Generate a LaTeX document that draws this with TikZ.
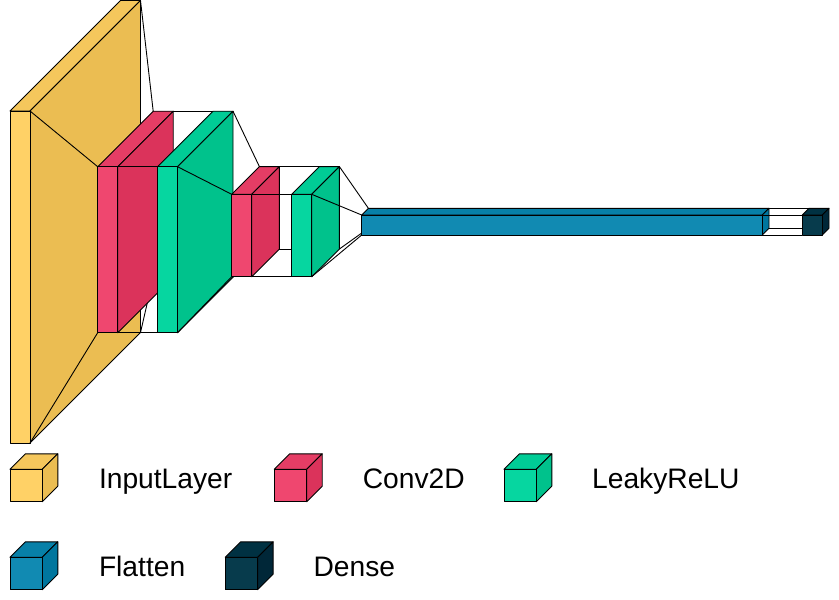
\documentclass[tikz,border=0pt]{standalone}
\usepackage{fontspec}
\setmainfont{Liberation Sans}
\usetikzlibrary{calc}
\usetikzlibrary{positioning}

\definecolor{inputfront}{RGB}{255,209,102}
\definecolor{inputtop}{RGB}{245,199,92}
\definecolor{inputside}{RGB}{235,189,82}
\definecolor{convfront}{RGB}{239,71,111}
\definecolor{convtop}{RGB}{229,61,101}
\definecolor{convside}{RGB}{219,51,91}
\definecolor{leakyfront}{RGB}{6,214,160}
\definecolor{leakytop}{RGB}{0,204,150}
\definecolor{leakyside}{RGB}{0,194,140}
\definecolor{flatfront}{RGB}{17,138,178}
\definecolor{flattop}{RGB}{7,128,168}
\definecolor{flatside}{RGB}{0,118,158}
\definecolor{densefront}{RGB}{7,59,76}
\definecolor{densetop}{RGB}{0,49,66}
\definecolor{denseside}{RGB}{0,39,56}

\begin{document}
\begin{tikzpicture}[x=1pt, y=-1pt,
    face/.style={draw=black, line width=0.9pt, line join=round},
    legendtext/.style={anchor=base west, inner sep=0pt, font=\fontsize{28.2}{34}\selectfont}]

\useasboundingbox (0,0) rectangle (839,600);

% 定义点
\def\boxcorners#1#2#3#4#5#6{%
  \coordinate (#1-ftl) at (#2,#3);
  \coordinate (#1-ftr) at (#4,#3);
  \coordinate (#1-fbr) at (#4,#5);
  \coordinate (#1-fbl) at (#2,#5);
  \coordinate (#1-btl) at ($(#1-ftl)+(#6,-#6)$);
  \coordinate (#1-btr) at ($(#1-ftr)+(#6,-#6)$);
  \coordinate (#1-bbr) at ($(#1-fbr)+(#6,-#6)$);
  \coordinate (#1-bbl) at ($(#1-fbl)+(#6,-#6)$);
}

\def\paintbox#1#2{%
  \filldraw[face, fill=#2top] (#1-ftl) -- (#1-ftr) -- (#1-btr) -- (#1-btl) -- cycle;
  \filldraw[face, fill=#2side] (#1-ftr) -- (#1-btr) -- (#1-bbr) -- (#1-fbr) -- cycle;
  \filldraw[face, fill=#2front] (#1-ftl) rectangle (#1-fbr);
}

\def\funnel#1#2{%
  \draw[face] (#1-btr) -- (#2-btl);
  \draw[face] (#1-bbr) -- (#2-bbl);
  \draw[face] (#1-fbr) -- (#2-fbl);
  \draw[face] (#1-ftr) -- (#2-ftl);
}

\boxcorners{in}{10}{111}{30}{443}{110.5}
\boxcorners{c1}{97.7}{166.7}{117.7}{332.7}{55.5}
\boxcorners{l1}{157.5}{166.7}{177.5}{332.7}{55.5}
\boxcorners{c2}{231.7}{194.3}{251.7}{276.7}{27.7}
\boxcorners{l2}{291.7}{194.3}{311.7}{276.7}{27.7}
\boxcorners{fl}{361.7}{215}{762.3}{235}{6.7}
\boxcorners{dn}{802.3}{215}{822.3}{235}{6.7}

% 图层
\paintbox{in}{input}
\funnel{in}{c1}
\paintbox{c1}{conv}
\funnel{c1}{l1}
\paintbox{l1}{leaky}
\funnel{l1}{c2}
\paintbox{c2}{conv}
\funnel{c2}{l2}
\paintbox{l2}{leaky}
\funnel{l2}{fl}
\paintbox{fl}{flat}
\funnel{fl}{dn}
\paintbox{dn}{dense}

% 图例
\boxcorners{kin}{10}{469.3}{42.3}{501.7}{15.5}
\boxcorners{kc}{274.3}{469.3}{306.7}{501.7}{15.5}
\boxcorners{kl}{504}{469.3}{536.3}{501.7}{15.5}
\boxcorners{kf}{10}{557.3}{42.3}{589.7}{15.5}
\boxcorners{kd}{225.3}{557.3}{257.6}{589.7}{15.5}

\paintbox{kin}{input}
\paintbox{kc}{conv}
\paintbox{kl}{leaky}
\paintbox{kf}{flat}
\paintbox{kd}{dense}

\node[legendtext] (t-in) at (98.8,488.3) {InputLayer};
\node[legendtext] (t-c) at (362.6,488.3) {Conv2D};
\node[legendtext] (t-l) at (592,488.3) {LeakyReLU};
\node[legendtext] (t-f) at (98.8,576) {Flatten};
\node[legendtext] (t-d) at (313.4,576) {Dense};

\end{tikzpicture}
\end{document}
